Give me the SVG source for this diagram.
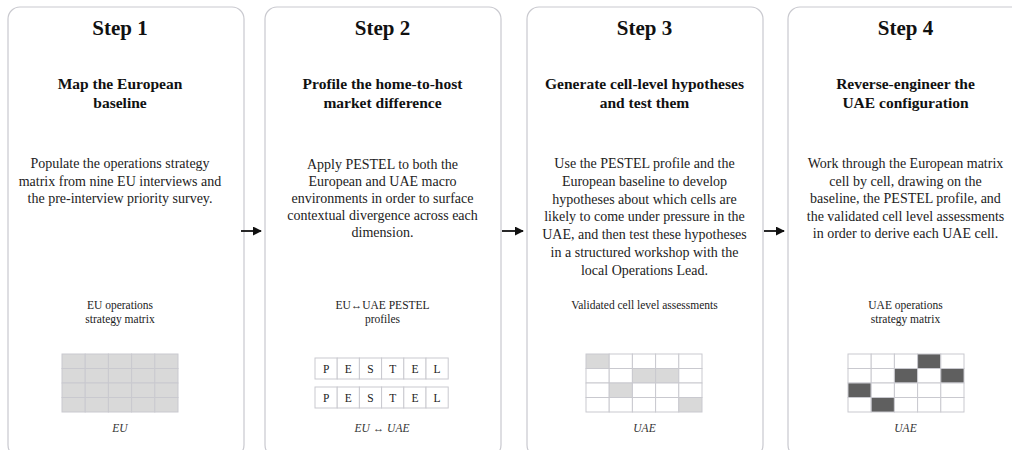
<svg xmlns="http://www.w3.org/2000/svg" width="1012" height="450" viewBox="0 0 1012 450">
  <defs>
    <marker id="arrowhead" viewBox="0 0 10 10" refX="9" refY="5" markerWidth="5" markerHeight="5" orient="auto">
      <path d="M0,0 L10,5 L0,10 z" fill="#111"/>
    </marker>
    <style>
      .card { fill: #ffffff; stroke: #c9c9cf; stroke-width: 1.2; }
      .step { font-family: "Liberation Serif", serif; font-weight: bold; font-size: 21px; fill: #111; text-anchor: middle; }
      .title { font-family: "Liberation Serif", serif; font-weight: bold; font-size: 15.5px; fill: #111; text-anchor: middle; }
      .body { font-family: "Liberation Serif", serif; font-size: 14px; fill: #222; text-anchor: middle; }
      .out { font-family: "Liberation Serif", serif; font-size: 11.5px; fill: #222; text-anchor: middle; }
      .cap { font-family: "Liberation Serif", serif; font-style: italic; font-size: 11.5px; fill: #333; text-anchor: middle; }
      .pl { font-family: "Liberation Serif", serif; font-size: 11.5px; fill: #222; text-anchor: middle; }
      .c { fill: #ffffff; stroke: #c9c9cf; stroke-width: 1; }
      .g { fill: #d9d9d9; stroke: #c9c9cf; stroke-width: 1; }
      .d { fill: #5f5f5f; stroke: #c9c9cf; stroke-width: 1; }
      .conn { stroke: #111; stroke-width: 1.8; fill: none; }
    </style>
  </defs>
  <rect width="1012" height="450" fill="#ffffff"/>

  <!-- Step 1 -->
  <g id="step1">
    <rect class="card" x="8" y="7" width="236" height="450" rx="12"/>
    <text class="step" x="120" y="35">Step 1</text>
    <text class="title" x="120" y="89">Map the European</text>
    <text class="title" x="120" y="108">baseline</text>
    <text class="body" x="120" y="168">Populate the operations strategy</text>
    <text class="body" x="120" y="185.5">matrix from nine EU interviews and</text>
    <text class="body" x="120" y="203">the pre-interview priority survey.</text>
    <text class="out" x="120" y="309">EU operations</text>
    <text class="out" x="120" y="323">strategy matrix</text>
    <g>
      <rect class="g" x="62" y="354" width="23.2" height="14.5"/>
      <rect class="g" x="85.2" y="354" width="23.2" height="14.5"/>
      <rect class="g" x="108.4" y="354" width="23.2" height="14.5"/>
      <rect class="g" x="131.6" y="354" width="23.2" height="14.5"/>
      <rect class="g" x="154.8" y="354" width="23.2" height="14.5"/>
      <rect class="g" x="62" y="368.5" width="23.2" height="14.5"/>
      <rect class="g" x="85.2" y="368.5" width="23.2" height="14.5"/>
      <rect class="g" x="108.4" y="368.5" width="23.2" height="14.5"/>
      <rect class="g" x="131.6" y="368.5" width="23.2" height="14.5"/>
      <rect class="g" x="154.8" y="368.5" width="23.2" height="14.5"/>
      <rect class="g" x="62" y="383" width="23.2" height="14.5"/>
      <rect class="g" x="85.2" y="383" width="23.2" height="14.5"/>
      <rect class="g" x="108.4" y="383" width="23.2" height="14.5"/>
      <rect class="g" x="131.6" y="383" width="23.2" height="14.5"/>
      <rect class="g" x="154.8" y="383" width="23.2" height="14.5"/>
      <rect class="g" x="62" y="397.5" width="23.2" height="14.5"/>
      <rect class="g" x="85.2" y="397.5" width="23.2" height="14.5"/>
      <rect class="g" x="108.4" y="397.5" width="23.2" height="14.5"/>
      <rect class="g" x="131.6" y="397.5" width="23.2" height="14.5"/>
      <rect class="g" x="154.8" y="397.5" width="23.2" height="14.5"/>
    </g>
    <text class="cap" x="120" y="432">EU</text>
  </g>

  <!-- Step 2 -->
  <g id="step2">
    <rect class="card" x="265" y="7" width="236" height="450" rx="12"/>
    <text class="step" x="382.5" y="35">Step 2</text>
    <text class="title" x="382.5" y="89">Profile the home-to-host</text>
    <text class="title" x="382.5" y="108">market difference</text>
    <text class="body" x="382.5" y="169">Apply PESTEL to both the</text>
    <text class="body" x="382.5" y="186">European and UAE macro</text>
    <text class="body" x="382.5" y="203">environments in order to surface</text>
    <text class="body" x="382.5" y="220">contextual divergence across each</text>
    <text class="body" x="382.5" y="237">dimension.</text>
    <text class="out" x="382.5" y="309">EU↔UAE PESTEL</text>
    <text class="out" x="382.5" y="323">profiles</text>
    <g>
      <rect class="c" x="315" y="358" width="22.2" height="21"/>
      <rect class="c" x="337.2" y="358" width="22.2" height="21"/>
      <rect class="c" x="359.4" y="358" width="22.2" height="21"/>
      <rect class="c" x="381.6" y="358" width="22.2" height="21"/>
      <rect class="c" x="403.8" y="358" width="22.2" height="21"/>
      <rect class="c" x="426" y="358" width="22.2" height="21"/>
      <text class="pl" x="326.1" y="372.5">P</text>
      <text class="pl" x="348.3" y="372.5">E</text>
      <text class="pl" x="370.5" y="372.5">S</text>
      <text class="pl" x="392.7" y="372.5">T</text>
      <text class="pl" x="414.9" y="372.5">E</text>
      <text class="pl" x="437.1" y="372.5">L</text>
      <rect class="c" x="315" y="387" width="22.2" height="21"/>
      <rect class="c" x="337.2" y="387" width="22.2" height="21"/>
      <rect class="c" x="359.4" y="387" width="22.2" height="21"/>
      <rect class="c" x="381.6" y="387" width="22.2" height="21"/>
      <rect class="c" x="403.8" y="387" width="22.2" height="21"/>
      <rect class="c" x="426" y="387" width="22.2" height="21"/>
      <text class="pl" x="326.1" y="401.5">P</text>
      <text class="pl" x="348.3" y="401.5">E</text>
      <text class="pl" x="370.5" y="401.5">S</text>
      <text class="pl" x="392.7" y="401.5">T</text>
      <text class="pl" x="414.9" y="401.5">E</text>
      <text class="pl" x="437.1" y="401.5">L</text>
    </g>
    <text class="cap" x="382" y="432">EU ↔ UAE</text>
  </g>

  <!-- Step 3 -->
  <g id="step3">
    <rect class="card" x="527" y="7" width="236" height="450" rx="12"/>
    <text class="step" x="644.5" y="35">Step 3</text>
    <text class="title" x="644.5" y="89">Generate cell-level hypotheses</text>
    <text class="title" x="644.5" y="108">and test them</text>
    <text class="body" x="644.5" y="168">Use the PESTEL profile and the</text>
    <text class="body" x="644.5" y="185.8">European baseline to develop</text>
    <text class="body" x="644.5" y="203.6">hypotheses about which cells are</text>
    <text class="body" x="644.5" y="221.4">likely to come under pressure in the</text>
    <text class="body" x="644.5" y="239.2">UAE, and then test these hypotheses</text>
    <text class="body" x="644.5" y="257">in a structured workshop with the</text>
    <text class="body" x="644.5" y="274.8">local Operations Lead.</text>
    <text class="out" x="644.5" y="309">Validated cell level assessments</text>
    <g>
      <rect class="g" x="586" y="354" width="23.2" height="14.5"/>
      <rect class="c" x="609.2" y="354" width="23.2" height="14.5"/>
      <rect class="c" x="632.4" y="354" width="23.2" height="14.5"/>
      <rect class="c" x="655.6" y="354" width="23.2" height="14.5"/>
      <rect class="c" x="678.8" y="354" width="23.2" height="14.5"/>
      <rect class="c" x="586" y="368.5" width="23.2" height="14.5"/>
      <rect class="c" x="609.2" y="368.5" width="23.2" height="14.5"/>
      <rect class="g" x="632.4" y="368.5" width="23.2" height="14.5"/>
      <rect class="g" x="655.6" y="368.5" width="23.2" height="14.5"/>
      <rect class="c" x="678.8" y="368.5" width="23.2" height="14.5"/>
      <rect class="c" x="586" y="383" width="23.2" height="14.5"/>
      <rect class="g" x="609.2" y="383" width="23.2" height="14.5"/>
      <rect class="c" x="632.4" y="383" width="23.2" height="14.5"/>
      <rect class="c" x="655.6" y="383" width="23.2" height="14.5"/>
      <rect class="c" x="678.8" y="383" width="23.2" height="14.5"/>
      <rect class="c" x="586" y="397.5" width="23.2" height="14.5"/>
      <rect class="c" x="609.2" y="397.5" width="23.2" height="14.5"/>
      <rect class="c" x="632.4" y="397.5" width="23.2" height="14.5"/>
      <rect class="c" x="655.6" y="397.5" width="23.2" height="14.5"/>
      <rect class="g" x="678.8" y="397.5" width="23.2" height="14.5"/>
    </g>
    <text class="cap" x="644.5" y="432">UAE</text>
  </g>

  <!-- Step 4 -->
  <g id="step4">
    <rect class="card" x="788" y="7" width="236" height="450" rx="12"/>
    <text class="step" x="905.5" y="35">Step 4</text>
    <text class="title" x="905.5" y="89">Reverse-engineer the</text>
    <text class="title" x="905.5" y="108">UAE configuration</text>
    <text class="body" x="905.5" y="168">Work through the European matrix</text>
    <text class="body" x="905.5" y="185.5">cell by cell, drawing on the</text>
    <text class="body" x="905.5" y="203">baseline, the PESTEL profile, and</text>
    <text class="body" x="905.5" y="220.5">the validated cell level assessments</text>
    <text class="body" x="905.5" y="238">in order to derive each UAE cell.</text>
    <text class="out" x="905.5" y="309">UAE operations</text>
    <text class="out" x="905.5" y="323">strategy matrix</text>
    <g>
      <rect class="c" x="848" y="354" width="23.2" height="14.5"/>
      <rect class="c" x="871.2" y="354" width="23.2" height="14.5"/>
      <rect class="c" x="894.4" y="354" width="23.2" height="14.5"/>
      <rect class="d" x="917.6" y="354" width="23.2" height="14.5"/>
      <rect class="c" x="940.8" y="354" width="23.2" height="14.5"/>
      <rect class="c" x="848" y="368.5" width="23.2" height="14.5"/>
      <rect class="c" x="871.2" y="368.5" width="23.2" height="14.5"/>
      <rect class="d" x="894.4" y="368.5" width="23.2" height="14.5"/>
      <rect class="c" x="917.6" y="368.5" width="23.2" height="14.5"/>
      <rect class="d" x="940.8" y="368.5" width="23.2" height="14.5"/>
      <rect class="d" x="848" y="383" width="23.2" height="14.5"/>
      <rect class="c" x="871.2" y="383" width="23.2" height="14.5"/>
      <rect class="c" x="894.4" y="383" width="23.2" height="14.5"/>
      <rect class="c" x="917.6" y="383" width="23.2" height="14.5"/>
      <rect class="c" x="940.8" y="383" width="23.2" height="14.5"/>
      <rect class="c" x="848" y="397.5" width="23.2" height="14.5"/>
      <rect class="d" x="871.2" y="397.5" width="23.2" height="14.5"/>
      <rect class="c" x="894.4" y="397.5" width="23.2" height="14.5"/>
      <rect class="c" x="917.6" y="397.5" width="23.2" height="14.5"/>
      <rect class="c" x="940.8" y="397.5" width="23.2" height="14.5"/>
    </g>
    <text class="cap" x="905.5" y="432">UAE</text>
  </g>

  <!-- Connectors between steps -->
  <g id="connectors">
    <line class="conn" x1="241" y1="231" x2="261" y2="231" marker-end="url(#arrowhead)"/>
    <line class="conn" x1="502" y1="231" x2="523" y2="231" marker-end="url(#arrowhead)"/>
    <line class="conn" x1="764" y1="231" x2="784" y2="231" marker-end="url(#arrowhead)"/>
  </g>
</svg>
